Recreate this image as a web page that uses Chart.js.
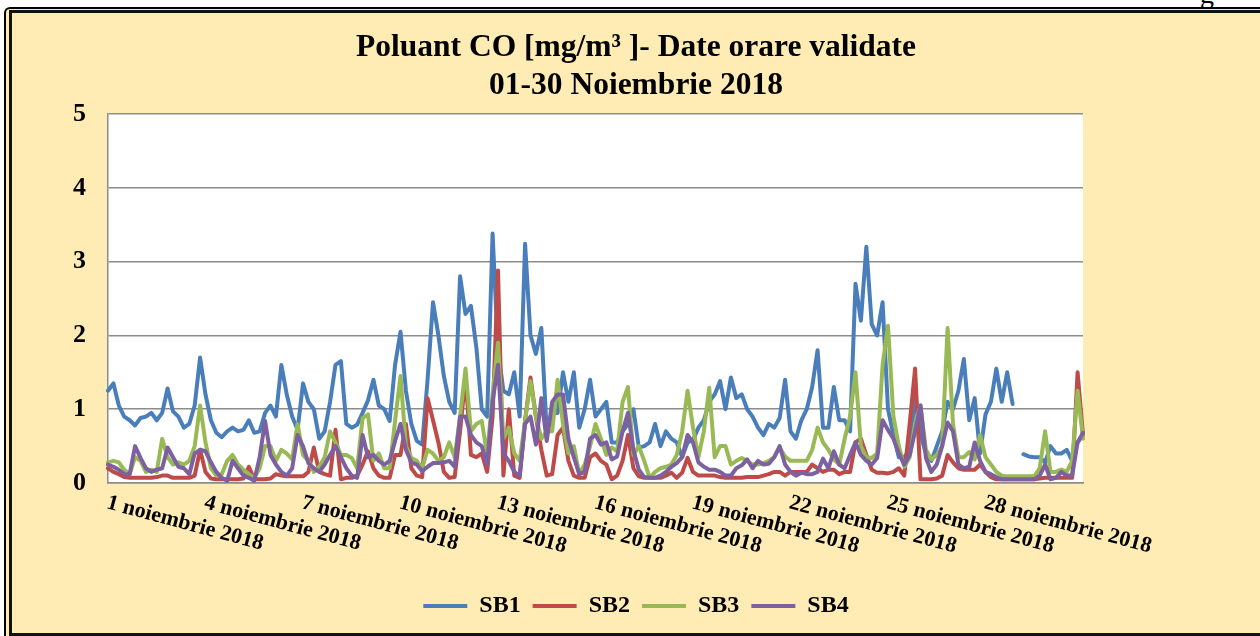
<!DOCTYPE html>
<html>
<head>
<meta charset="utf-8">
<script src="https://cdn.jsdelivr.net/npm/chart.js@4.4.1/dist/chart.umd.min.js"></script>
<style>
  body { margin: 0; background: #fff; width: 1260px; height: 636px; overflow: hidden; position: relative; }
  .sus { position: absolute; left: 1200px; top: -22px; font: 28px 'Liberation Serif', serif; color: #000; }
  .rama1 { position: absolute; left: 4px; top: 7px; width: 1300px; height: 640px; border-left: 2px solid #000; border-top: 2px solid #000; border-top-left-radius: 6px; background: #FFEBB4; }
  .rama2 { position: absolute; left: 9px; top: 10px; width: 1300px; height: 620px; border: 3px solid #111; background: #FFEBB4; }
  #cutie { position: absolute; left: 12px; top: 12px; width: 1248px; height: 618px; }
</style>
</head>
<body>
<div class="sus">g</div>
<div class="rama1"></div>
<div class="rama2"></div>
<div id="cutie"><canvas id="grafic"></canvas></div>
<script>
// etichete afisate pe axa X (din 3 in 3 zile)
const zile = ["1 noiembrie 2018", "4 noiembrie 2018", "7 noiembrie 2018", "10 noiembrie 2018",
  "13 noiembrie 2018", "16 noiembrie 2018", "19 noiembrie 2018", "22 noiembrie 2018",
  "25 noiembrie 2018", "28 noiembrie 2018"];

// valori, la fiecare 4 ore (181 puncte)
const sb1 = [
  1.25,1.35,1.05,0.9,0.85,0.78,0.88,0.9,0.95,0.85,0.95,1.28,0.97,0.9,0.75,0.8,1.05,1.7,1.2,0.85,
  0.68,0.62,0.7,0.75,0.7,0.72,0.85,0.68,0.7,0.95,1.05,0.9,1.6,1.2,0.9,0.72,1.35,1.1,1.0,0.6,
  0.7,1.1,1.6,1.65,0.8,
  0.75,0.79,0.95,1.12,1.4,1.05,1.0,0.84,1.6,2.05,1.25,0.8,0.57,0.52,1.4,2.45,2.0,1.45,1.1,0.95,
  2.8,2.29,2.4,1.84,1.0,0.9,3.38,1.8,1.25,1.2,1.5,0.9,3.24,2.0,1.75,2.1,0.7,0.95,0.95,1.5,
  1.1,1.5,0.75,1.0,
  1.4,0.9,1.0,1.1,0.55,0.55,0.7,0.8,1.0,0.48,0.5,0.55,0.8,0.5,0.7,0.6,0.55,0.35,0.55,0.58,
  0.75,0.85,1.1,1.2,1.38,1.0,1.43,1.15,1.2,1.0,0.9,0.75,0.65,0.8,0.75,0.88,1.4,0.7,0.6,0.85,
  1.0,1.3,1.8,0.75,
  0.75,1.3,0.85,0.85,0.7,2.7,2.2,3.2,2.15,2.0,2.45,1.0,0.65,0.35,0.35,0.45,1.2,0.65,0.4,0.3,
  0.5,0.7,1.1,1.0,1.25,1.68,0.85,1.15,0.4,0.93,1.1,1.55,1.1,1.5,1.07,null,0.39,0.36,0.35,0.35,
  0.28,0.5,0.4,0.4,0.45,0.3,0.55,0.65
];
const sb2 = [
  0.2,0.15,0.12,0.08,0.07,0.07,0.07,0.07,0.07,0.08,0.1,0.1,0.07,0.07,0.07,0.07,0.1,0.45,0.15,0.06,
  0.05,0.05,0.05,0.05,0.05,0.06,0.22,0.05,0.05,0.05,0.06,0.12,0.1,0.09,0.09,0.09,0.09,0.15,0.48,0.15,
  0.12,0.1,0.72,0.05,0.07,
  0.07,0.1,0.25,0.43,0.2,0.1,0.07,0.07,0.38,0.38,0.8,0.2,0.1,0.08,1.15,0.85,0.55,0.15,0.07,0.08,
  0.7,1.45,0.38,0.35,0.4,0.15,0.9,2.88,0.1,1.0,0.1,0.07,0.85,1.43,0.9,0.45,0.1,0.12,0.65,0.75,
  0.3,0.1,0.07,0.07,
  0.35,0.4,0.3,0.25,0.05,0.1,0.3,0.65,0.2,0.09,0.07,0.07,0.07,0.07,0.1,0.14,0.07,0.14,0.34,0.15,
  0.1,0.1,0.1,0.1,0.08,0.07,0.07,0.07,0.07,0.08,0.08,0.08,0.1,0.12,0.15,0.15,0.1,0.15,0.15,0.15,
  0.15,0.25,0.2,0.15,
  0.18,0.18,0.12,0.15,0.15,0.55,0.6,0.38,0.18,0.14,0.14,0.13,0.15,0.2,0.1,0.8,1.55,0.05,0.05,0.05,
  0.06,0.1,0.38,0.28,0.2,0.18,0.18,0.18,0.25,0.15,0.08,0.05,0.05,0.05,0.05,0.05,0.05,0.05,0.05,0.06,
  0.07,0.07,0.07,0.07,0.07,0.07,1.5,0.65
];
const sb3 = [
  0.28,0.3,0.28,0.18,0.12,0.35,0.3,0.15,0.18,0.15,0.6,0.35,0.25,0.28,0.25,0.3,0.5,1.05,0.55,0.2,
  0.1,0.12,0.3,0.38,0.25,0.18,0.12,0.07,0.2,0.5,0.5,0.3,0.45,0.4,0.32,0.8,0.38,0.3,0.15,0.22,
  0.35,0.7,0.55,0.38,0.38,
  0.34,0.2,0.88,0.93,0.3,0.4,0.2,0.2,0.84,1.45,0.5,0.34,0.3,0.2,0.45,0.4,0.3,0.35,0.55,0.35,
  0.9,1.55,0.7,0.8,0.84,0.38,1.2,1.9,0.6,0.75,0.4,0.3,0.84,1.38,0.9,0.6,0.7,0.7,1.4,0.8,
  0.4,0.5,0.12,0.25,
  0.5,0.8,0.6,0.38,0.48,0.43,1.1,1.3,0.38,0.5,0.3,0.07,0.15,0.2,0.22,0.25,0.38,0.7,1.25,0.75,
  0.35,0.7,1.29,0.35,0.5,0.5,0.25,0.3,0.34,0.3,0.25,0.25,0.27,0.3,0.35,0.48,0.36,0.3,0.3,0.3,
  0.3,0.45,0.75,0.55,
  0.45,0.32,0.25,0.6,0.9,1.5,0.5,0.35,0.34,0.4,1.6,2.13,0.9,0.5,0.22,0.35,0.8,1.05,0.45,0.32,
  0.38,0.5,2.1,0.8,0.35,0.35,0.42,0.32,0.65,0.35,0.25,0.15,0.1,0.09,0.09,0.09,0.09,0.09,0.09,0.2,
  0.7,0.15,0.15,0.18,0.15,0.3,1.25,0.6
];
const sb4 = [
  0.25,0.22,0.18,0.12,0.12,0.5,0.34,0.2,0.15,0.18,0.2,0.48,0.35,0.22,0.2,0.12,0.4,0.45,0.43,0.28,
  0.15,0.07,0.03,0.3,0.2,0.1,0.07,0.03,0.35,0.84,0.38,0.25,0.15,0.1,0.2,0.65,0.5,0.27,0.2,0.15,
  0.25,0.38,0.5,0.35,0.2,
  0.1,0.07,0.65,0.35,0.38,0.3,0.25,0.3,0.57,0.8,0.45,0.28,0.25,0.16,0.22,0.27,0.27,0.28,0.3,0.22,
  0.9,0.9,0.65,0.55,0.5,0.25,1.1,1.6,0.4,0.3,0.15,0.1,0.8,0.9,0.52,1.15,0.57,1.1,1.2,1.2,
  0.6,0.35,0.12,0.15,
  0.6,0.65,0.52,0.55,0.32,0.36,0.7,0.95,0.45,0.18,0.08,0.07,0.07,0.1,0.15,0.22,0.27,0.35,0.65,0.55,
  0.28,0.22,0.18,0.18,0.15,0.1,0.1,0.2,0.24,0.32,0.2,0.3,0.25,0.26,0.35,0.5,0.25,0.15,0.1,0.14,
  0.12,0.12,0.15,0.33,
  0.2,0.43,0.25,0.2,0.38,0.55,0.38,0.3,0.25,0.34,0.85,0.72,0.6,0.4,0.25,0.38,0.7,1.05,0.34,0.15,
  0.25,0.5,0.82,0.7,0.25,0.2,0.22,0.55,0.3,0.15,0.12,0.08,0.05,0.05,0.05,0.05,0.05,0.05,0.05,0.1,
  0.25,0.05,0.07,0.15,0.1,0.1,0.55,0.68
];

// categoriile: un punct la 4 ore
const ore = [];
for (let i = 0; i < sb1.length; i++) {
  const zi = Math.floor(i / 6) + 1;
  ore.push(zi + " noiembrie 2018 " + ((i % 6) * 4) + ":00");
}

const fontSerif = "'Liberation Serif', 'Times New Roman', serif";
const gri = "#8c8c8c";

// fundal alb pentru zona graficului
const fundal = {
  id: "fundal",
  beforeDraw: (chart) => {
    const a = chart.chartArea;
    const ctx = chart.ctx;
    ctx.save();
    ctx.fillStyle = "#fff";
    ctx.fillRect(a.left, a.top, a.right - a.left, a.bottom - a.top);
    ctx.restore();
  },
};

// etichetele inclinate de pe axa X
const eticheteX = {
  id: "eticheteX",
  afterDraw: (chart) => {
    const sx = chart.scales.x;
    const ctx = chart.ctx;
    ctx.save();
    ctx.fillStyle = "#000";
    ctx.font = "bold 22px " + fontSerif;
    ctx.textAlign = "left";
    ctx.textBaseline = "top";
    zile.forEach((t, k) => {
      const x = sx.getPixelForValue(k * 18);
      ctx.save();
      ctx.translate(x + 2, chart.chartArea.bottom + 9);
      ctx.rotate(15 * Math.PI / 180);
      ctx.fillText(t, 0, 0);
      ctx.restore();
    });
    ctx.restore();
  },
};

const serie = (nume, date, culoare, ordine) => ({
  label: nume,
  data: date,
  borderColor: culoare,
  backgroundColor: culoare,
  borderWidth: 4,
  borderCapStyle: "round",
  borderJoinStyle: "round",
  pointRadius: 0,
  tension: 0,
  spanGaps: false,
  order: ordine,
});

new Chart(document.getElementById("grafic"), {
  type: "line",
  data: {
    labels: ore,
    datasets: [
      serie("SB1", sb1, "#4A7EBB", 4),
      serie("SB2", sb2, "#BE4B48", 3),
      serie("SB3", sb3, "#98B954", 2),
      serie("SB4", sb4, "#7D60A0", 1),
    ],
  },
  options: {
    responsive: true,
    maintainAspectRatio: false,
    animation: false,
    layout: { padding: { left: 0, right: 0, top: 0, bottom: 2 } },
    plugins: {
      title: {
        display: true,
        text: ["Poluant CO [mg/m³ ]- Date orare validate", "01-30 Noiembrie 2018"],
        color: "#000",
        font: { family: fontSerif, size: 31.5, weight: "bold", lineHeight: 1.206 },
        padding: { top: 17, bottom: 9 },
      },
      legend: {
        position: "bottom",
        labels: {
          usePointStyle: true,
          pointStyle: "line",
          pointStyleWidth: 44,
          color: "#000",
          padding: 12,
          font: { family: fontSerif, size: 24, weight: "bold" },
          sort: (a, b) => a.datasetIndex - b.datasetIndex,
        },
      },
      tooltip: { enabled: false },
    },
    scales: {
      x: {
        type: "category",
        offset: false,
        grid: { display: false },
        border: { color: gri, width: 1.5 },
        ticks: { display: false },
        afterFit: (s) => { s.height = 99; },
      },
      y: {
        min: 0,
        max: 5,
        ticks: {
          stepSize: 1,
          padding: 22,
          color: "#000",
          font: { family: fontSerif, size: 26, weight: "bold" },
        },
        grid: { color: gri, lineWidth: 1.5, drawTicks: false },
        border: { color: gri, width: 1.5 },
        afterFit: (s) => { s.width = 96; },
      },
      dreapta: {
        type: "linear",
        position: "right",
        grid: { display: false },
        border: { display: false },
        ticks: { display: false },
        afterFit: (s) => { s.width = 177; },
      },
    },
  },
  plugins: [fundal, eticheteX],
});
</script>
</body>
</html>
